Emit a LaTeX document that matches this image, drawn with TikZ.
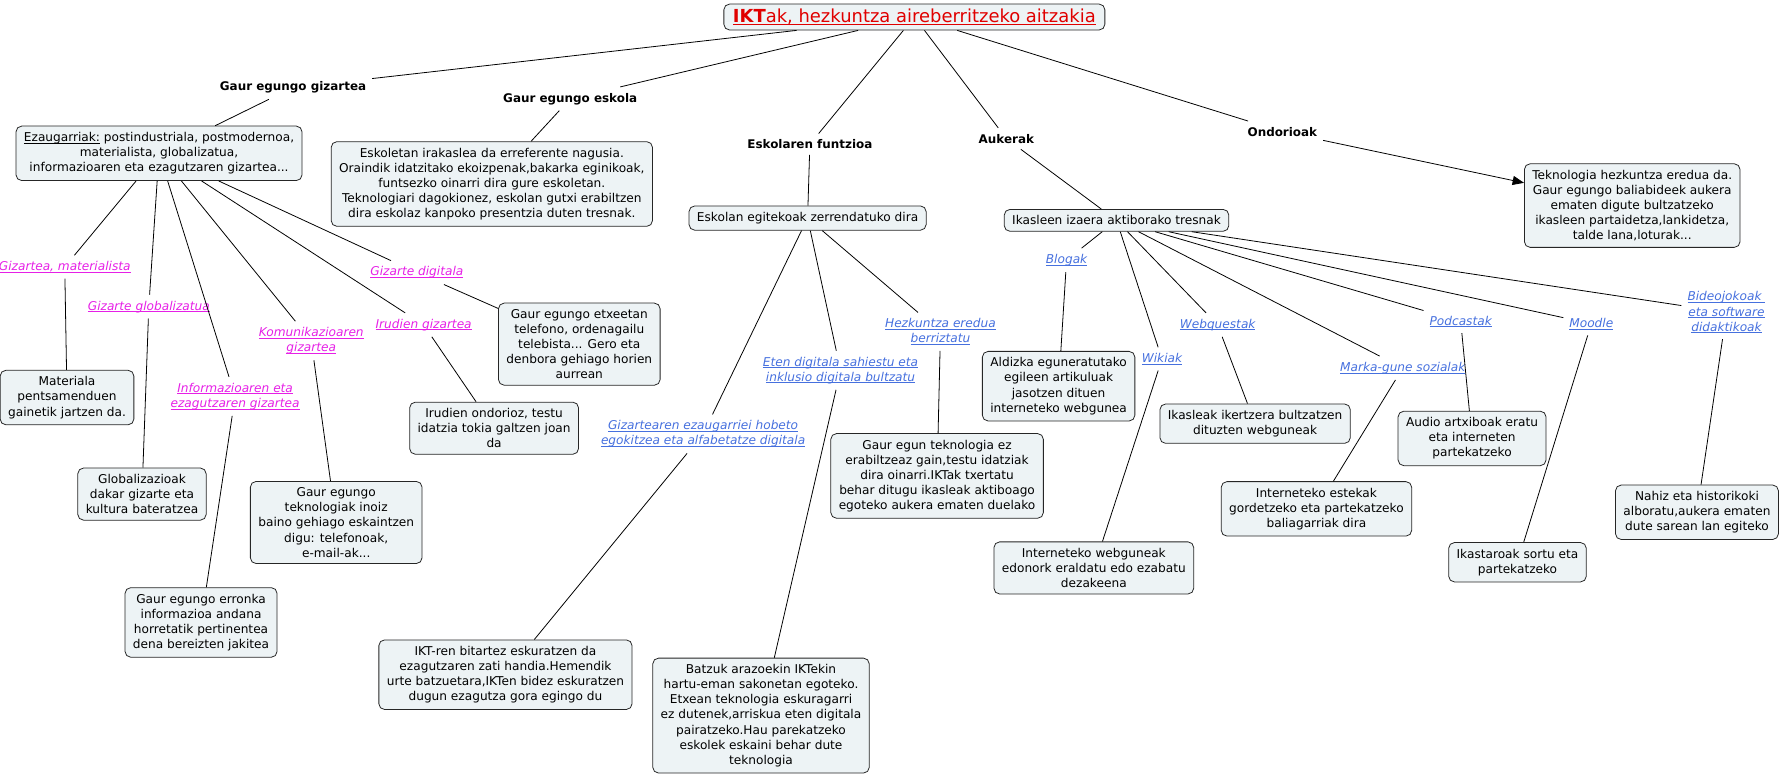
\documentclass[tikz,border=0pt]{standalone}
\usepackage{fontspec}
\setmainfont{DejaVu Sans}
\usetikzlibrary{arrows.meta}

\definecolor{boxfill}{HTML}{EDF3F5}
\definecolor{linkpink}{HTML}{E620E6}
\definecolor{linkblue}{HTML}{4670DE}
\definecolor{titlered}{HTML}{E00000}

\newcommand\undl[1]{\setbox0\hbox{#1}\rlap{\rule[-1.7pt]{\wd0}{0.6pt}}\box0}

\tikzset{
  concept/.style={draw=black!85, fill=boxfill, rounded corners=5pt, align=center,
    inner xsep=7pt, inner ysep=5.5pt, font=\fontsize{10.7}{13.3}\selectfont},
  phrase/.style={inner sep=5pt, font=\fontsize{10.5}{13}\selectfont\bfseries},
  pinklink/.style={text=linkpink, align=center, inner sep=5pt, font=\fontsize{10.7}{13.3}\selectfont\itshape},
  bluelink/.style={text=linkblue, align=center, inner sep=5pt, font=\fontsize{10.7}{13.3}\selectfont\itshape}
}

\begin{document}
\begin{tikzpicture}[x=1pt, y=-1pt, line width=0.7pt]
  \useasboundingbox (0,0) rectangle (1568,684);

  \node[concept, inner ysep=4.5pt, inner xsep=8pt, font=\fontsize{15.8}{18}\selectfont, text=titlered] (root) at (805,15)
    {\undl{\textbf{IKT}ak, hezkuntza aireberritzeko aitzakia}};

  \node[phrase] (gizartea) at (258,77) {Gaur egungo gizartea};
  \node[phrase] (eskola) at (502,87) {Gaur egungo eskola};
  \node[phrase] (funtzioa) at (713,127) {Eskolaren funtzioa};
  \node[phrase] (aukerak) at (886,122) {Aukerak};
  \node[phrase] (ondorioak) at (1129,116) {Ondorioak};

  \node[concept] (ezaugarriak) at (140,135)
    {\undl{Ezaugarriak:}\ postindustriala, postmodernoa,\\ materialista, globalizatua,\\ informazioaren eta ezagutzaren gizartea...};
  \node[concept] (eskoletan) at (433,162)
    {Eskoletan irakaslea da erreferente nagusia.\\ Oraindik idatzitako ekoizpenak,bakarka eginikoak,\\ funtsezko oinarri dira gure eskoletan.\\ Teknologiari dagokionez, eskolan gutxi erabiltzen\\ dira eskolaz kanpoko presentzia duten tresnak.};
  \node[concept] (egitekoak) at (711,192) {Eskolan egitekoak zerrendatuko dira};
  \node[concept] (tresnak) at (983,194) {Ikasleen izaera aktiborako tresnak};
  \node[concept] (teknologia) at (1437,181)
    {Teknologia hezkuntza eredua da.\\ Gaur egungo baliabideek aukera\\ ematen digute bultzatzeko\\ ikasleen partaidetza,lankidetza,\\ talde lana,loturak...};

  \node[pinklink] (materialista) at (57,235) {\undl{Gizartea, materialista}};
  \node[pinklink] (globalizatua) at (131,270) {\undl{Gizarte globalizatua}};
  \node[pinklink] (informazioa) at (207,349) {\undl{Informazioaren eta}\\ \undl{ezagutzaren gizartea}};
  \node[pinklink] (komunikazioa) at (274,300) {\undl{Komunikazioaren}\\ \undl{gizartea}};
  \node[pinklink] (irudien) at (373,286) {\undl{Irudien gizartea}};
  \node[pinklink] (digitala) at (367,240) {\undl{Gizarte digitala}};

  \node[concept] (materiala) at (59,350) {Materiala\\ pentsamenduen\\ gainetik jartzen da.};
  \node[concept] (globalizazioak) at (125,435) {Globalizazioak\\ dakar gizarte eta\\ kultura bateratzea};
  \node[concept] (erronka) at (177,548) {Gaur egungo erronka\\ informazioa andana\\ horretatik pertinentea\\ dena bereizten jakitea};
  \node[concept] (teknologiak) at (296,460) {Gaur egungo\\ teknologiak inoiz\\ baino gehiago eskaintzen\\ digu: telefonoak,\\ e-mail-ak...};
  \node[concept] (ondorioz) at (435,377) {Irudien ondorioz, testu\\ idatzia tokia galtzen joan\\ da};
  \node[concept] (etxeetan) at (510,303) {Gaur egungo etxeetan\\ telefono, ordenagailu\\ telebista... Gero eta\\ denbora gehiago horien\\ aurrean};

  \node[bluelink] (egokitzea) at (619,382) {\undl{Gizartearen ezaugarriei hobeto}\\ \undl{egokitzea eta alfabetatze digitala}};
  \node[bluelink] (eten) at (740,326) {\undl{Eten digitala sahiestu eta}\\ \undl{inklusio digitala bultzatu}};
  \node[bluelink] (eredua) at (828,292) {\undl{Hezkuntza eredua}\\ \undl{berriztatu}};

  \node[concept] (ikt) at (445,594) {IKT-ren bitartez eskuratzen da\\ ezagutzaren zati handia.Hemendik\\ urte batzuetara,IKTen bidez eskuratzen\\ dugun ezagutza gora egingo du};
  \node[concept] (batzuk) at (670,630) {Batzuk arazoekin IKTekin\\ hartu-eman sakonetan egoteko.\\ Etxean teknologia eskuragarri\\ ez dutenek,arriskua eten digitala\\ pairatzeko.Hau parekatzeko\\ eskolek eskaini behar dute\\ teknologia};
  \node[concept] (gauregun) at (825,419) {Gaur egun teknologia ez\\ erabiltzeaz gain,testu idatziak\\ dira oinarri.IKTak txertatu\\ behar ditugu ikasleak aktiboago\\ egoteko aukera ematen duelako};

  \node[bluelink] (blogak) at (939,229) {\undl{Blogak}};
  \node[bluelink] (wikiak) at (1023,316) {\undl{Wikiak}};
  \node[bluelink] (webquestak) at (1072,286) {\undl{Webquestak}};
  \node[bluelink] (marka) at (1235,324) {\undl{Marka-gune sozialak}};
  \node[bluelink] (podcastak) at (1286,283) {\undl{Podcastak}};
  \node[bluelink] (moodle) at (1401,285) {\undl{Moodle}};
  \node[bluelink] (bideojokoak) at (1520,275) {\undl{Bideojokoak\ }\\ \undl{eta software}\\ \undl{didaktikoak}};

  \node[concept] (aldizka) at (932,340) {Aldizka eguneratutako\\ egileen artikuluak\\ jasotzen dituen\\ interneteko webgunea};
  \node[concept] (webguneak) at (963,500) {Interneteko webguneak\\ edonork eraldatu edo ezabatu\\ dezakeena};
  \node[concept] (ikertzera) at (1105,373) {Ikasleak ikertzera bultzatzen\\ dituzten webguneak};
  \node[concept] (estekak) at (1159,448) {Interneteko estekak\\ gordetzeko eta partekatzeko\\ baliagarriak dira};
  \node[concept] (audio) at (1296,386) {Audio artxiboak eratu\\ eta interneten\\ partekatzeko};
  \node[concept] (ikastaroak) at (1336,495) {Ikastaroak sortu eta\\ partekatzeko};
  \node[concept] (nahiz) at (1494,451) {Nahiz eta historikoki\\ alboratu,aukera ematen\\ dute sarean lan egiteko};

  \draw (root) -- (gizartea);
  \draw (root) -- (eskola);
  \draw (root) -- (funtzioa);
  \draw (root) -- (aukerak);
  \draw (root) -- (ondorioak);
  \draw (gizartea) -- (ezaugarriak);
  \draw (eskola) -- (eskoletan);
  \draw (funtzioa) -- (egitekoak);
  \draw (aukerak) -- (tresnak);
  \draw[-{Triangle[length=10pt,width=8pt]}] (ondorioak) -- (teknologia);

  \draw (ezaugarriak) -- (materialista) -- (materiala);
  \draw (ezaugarriak) -- (globalizatua) -- (globalizazioak);
  \draw (ezaugarriak) -- (informazioa) -- (erronka);
  \draw (ezaugarriak) -- (komunikazioa) -- (teknologiak);
  \draw (ezaugarriak) -- (irudien) -- (ondorioz);
  \draw (ezaugarriak) -- (digitala) -- (etxeetan);

  \draw (egitekoak) -- (egokitzea) -- (ikt);
  \draw (egitekoak) -- (eten) -- (batzuk);
  \draw (egitekoak) -- (eredua) -- (gauregun);

  \draw (tresnak) -- (blogak) -- (aldizka);
  \draw (tresnak) -- (wikiak) -- (webguneak);
  \draw (tresnak) -- (webquestak) -- (ikertzera);
  \draw (tresnak) -- (marka) -- (estekak);
  \draw (tresnak) -- (podcastak) -- (audio);
  \draw (tresnak) -- (moodle) -- (ikastaroak);
  \draw (tresnak) -- (bideojokoak) -- (nahiz);
\end{tikzpicture}
\end{document}
